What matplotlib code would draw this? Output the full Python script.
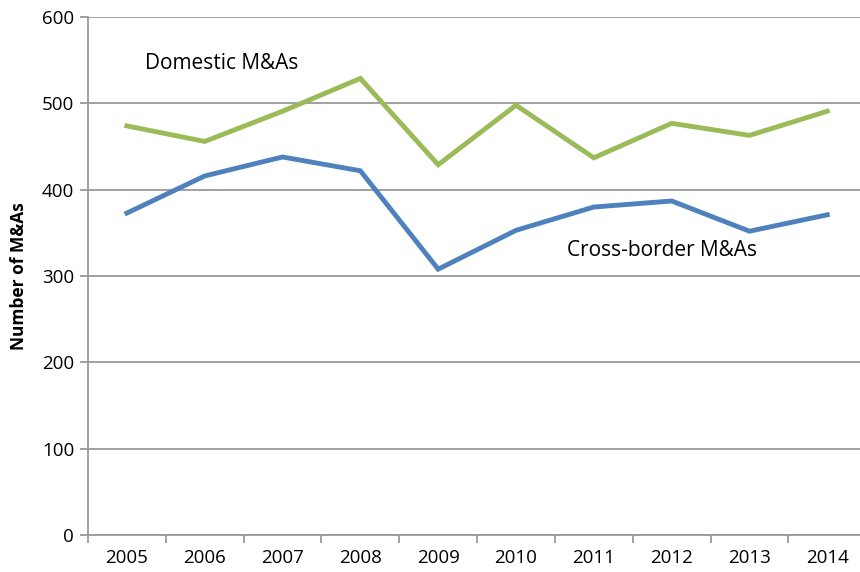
import matplotlib.pyplot as plt
import numpy as np

years = ['2005', '2006', '2007', '2008', '2009', '2010', '2011', '2012', '2013', '2014']
domestic = [474, 456, 491, 529, 429, 498, 437, 477, 463, 491]
cross_border = [373, 416, 438, 422, 308, 353, 380, 387, 352, 371]

plt.rcParams['font.family'] = ['Open Sans', 'DejaVu Sans']

fig = plt.figure(figsize=(8.6, 5.72), dpi=100)
ax = fig.add_axes([0.1023, 0.0647, 0.8977, 0.9053])

x = np.arange(len(years))
ax.plot(x, domestic, color='#9BBB59', lw=3.5, solid_joinstyle='miter')
ax.plot(x, cross_border, color='#4F81BD', lw=3.5, solid_joinstyle='miter')

ax.set_ylim(0, 600)
ax.set_yticks(range(0, 601, 100))
ax.set_xlim(-0.5, 9.42)
ax.set_xticks(x)
ax.set_xticklabels(years)
ax.set_xticks(np.arange(-0.5, 9.5, 1), minor=True)
ax.tick_params(axis='x', which='major', length=0, pad=10, labelsize=13.5)
ax.tick_params(axis='x', which='minor', length=6, width=1.3, color='#999999', direction='out')
ax.tick_params(axis='y', length=6, width=1.3, color='#999999', labelsize=13.5, pad=4)

ax.grid(axis='y', color='#999999', lw=1.3)
ax.set_axisbelow(True)
for s in ['top', 'right']:
    ax.spines[s].set_visible(False)
for s in ['left', 'bottom']:
    ax.spines[s].set_color('#999999')
    ax.spines[s].set_linewidth(1.3)

ax.set_ylabel('Number of M&As', fontsize=12.5, fontweight='bold', labelpad=10)

ax.text(0.23, 546, 'Domestic M&As', fontsize=15, ha='left', va='center')
ax.text(5.66, 330, 'Cross-border M&As', fontsize=15, ha='left', va='center')

fig.savefig('out.png', dpi=100)
